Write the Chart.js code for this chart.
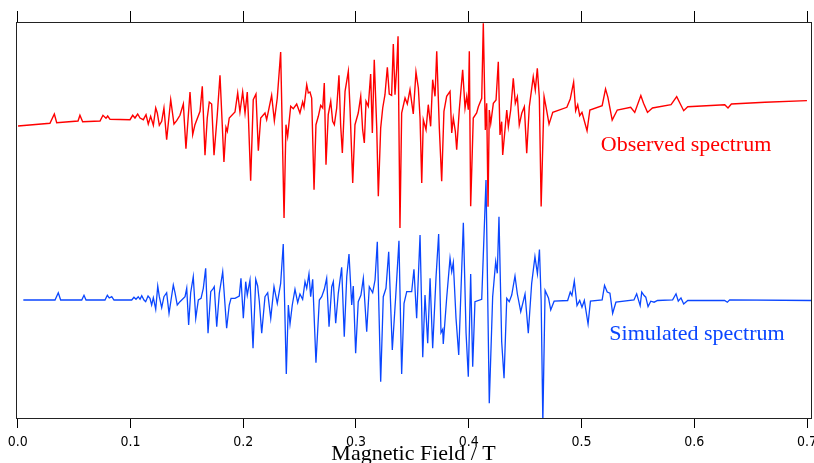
<!DOCTYPE html>
<html>
<head>
<meta charset="utf-8">
<script src="https://cdn.jsdelivr.net/npm/chart.js@4.4.1/dist/chart.umd.min.js"></script>
<style>
  html, body { margin: 0; padding: 0; background: #fff; }
  canvas { display: block; }
</style>
</head>
<body>
<canvas id="spectrumChart" width="814" height="463"></canvas>
<script>
// Observed spectrum: magnetic field (T) and signal (arb. units)
const obsField = [0.0003, 0.0286, 0.0325, 0.0346, 0.0535, 0.0552, 0.0576, 0.0730, 0.0756, 0.0783, 0.0798, 0.0819, 0.0996,
  0.1020, 0.1040, 0.1064, 0.1085, 0.1114, 0.1138, 0.1158, 0.1179, 0.1203, 0.1224, 0.1238, 0.1256, 0.1277, 0.1297, 0.1321,
  0.1357, 0.1386, 0.1410, 0.1439, 0.1469, 0.1492, 0.1528, 0.1552, 0.1572, 0.1617, 0.1637, 0.1661, 0.1681, 0.1699, 0.1720,
  0.1741, 0.1770, 0.1794, 0.1829, 0.1847, 0.1859, 0.1876, 0.1927, 0.1951, 0.1971, 0.1995, 0.2016, 0.2036, 0.2045, 0.2066,
  0.2089, 0.2113, 0.2134, 0.2155, 0.2193, 0.2208, 0.2252, 0.2276, 0.2302, 0.2332, 0.2362, 0.2379, 0.2394, 0.2421, 0.2444,
  0.2474, 0.2503, 0.2527, 0.2539, 0.2563, 0.2577, 0.2592, 0.2607, 0.2628, 0.2645, 0.2666, 0.2687, 0.2705, 0.2719, 0.2734,
  0.2754, 0.2776, 0.2793, 0.2808, 0.2829, 0.2849, 0.2864, 0.2879, 0.2903, 0.2932, 0.2947, 0.2971, 0.2991, 0.3020, 0.3042,
  0.3059, 0.3074, 0.3089, 0.3109, 0.3130, 0.3145, 0.3162, 0.3184, 0.3198, 0.3219, 0.3237, 0.3257, 0.3278, 0.3295, 0.3316,
  0.3331, 0.3346, 0.3361, 0.3373, 0.3390, 0.3405, 0.3435, 0.3455, 0.3479, 0.3508, 0.3532, 0.3553, 0.3568, 0.3583, 0.3597,
  0.3621, 0.3641, 0.3662, 0.3680, 0.3701, 0.3716, 0.3739, 0.3760, 0.3780, 0.3804, 0.3834, 0.3849, 0.3863, 0.3881, 0.3893,
  0.3916, 0.3946, 0.3967, 0.3982, 0.3996, 0.4005, 0.4017, 0.4040, 0.4070, 0.4085, 0.4115, 0.4129, 0.4147, 0.4159, 0.4171,
  0.4182, 0.4195, 0.4218, 0.4242, 0.4262, 0.4277, 0.4292, 0.4301, 0.4337, 0.4351, 0.4372, 0.4395, 0.4413, 0.4431, 0.4448,
  0.4470, 0.4493, 0.4514, 0.4537, 0.4572, 0.4590, 0.4608, 0.4626, 0.4642, 0.4668, 0.4686, 0.4712, 0.4745, 0.4870, 0.4900,
  0.4930, 0.4948, 0.4966, 0.4984, 0.5004, 0.5049, 0.5074, 0.5183, 0.5213, 0.5234, 0.5272, 0.5317, 0.5436, 0.5472, 0.5526,
  0.5550, 0.5585, 0.5629, 0.5794, 0.5844, 0.5873, 0.5906, 0.5942, 0.6270, 0.6299, 0.6329, 0.6627, 0.6999];
const obsSignal = [-0.010, 0.017, 0.110, 0.023, 0.040, 0.097, 0.033, 0.040, 0.097, 0.067, 0.090, 0.057, 0.053,
  0.097, 0.070, 0.110, 0.070, 0.053, 0.103, 0.010, 0.087, -0.003, 0.170, 0.120, -0.003, 0.037, 0.170, -0.147,
  0.253, 0.010, 0.043, 0.097, 0.210, -0.237, 0.330, -0.097, 0.003, 0.137, 0.387, -0.303, 0.070, 0.230, 0.210,
  -0.303, 0.103, 0.497, -0.370, -0.023, -0.063, 0.070, 0.130, 0.320, 0.130, 0.330, 0.120, 0.330, 0.110, -0.557,
  0.253, 0.310, -0.257, 0.070, 0.120, 0.053, 0.297, 0.043, 0.270, 0.730, -0.930, 0.003, -0.113, 0.187, 0.163,
  0.210, 0.120, 0.230, 0.177, 0.403, 0.320, 0.330, 0.270, -0.647, 0.003, 0.087, 0.197, 0.170, 0.420, -0.397,
  0.103, 0.237, 0.037, 0.003, 0.170, 0.497, -0.003, -0.280, 0.337, 0.537, 0.170, -0.580, 0.003, 0.120, 0.287,
  -0.047, -0.180, 0.237, 0.187, 0.510, -0.080, 0.653, -0.030, -0.713, -0.030, 0.170, 0.303, 0.577, 0.310, 0.297,
  0.810, 0.303, 0.570, 0.887, -1.030, 0.120, 0.270, 0.210, 0.353, 0.110, 0.530, 0.370, 0.070, -0.580, 0.053,
  -0.047, 0.203, -0.013, 0.453, 0.287, 0.737, -0.030, -0.563, 0.137, 0.287, 0.337, -0.080, 0.070, -0.063, -0.247,
  0.153, 0.553, 0.170, 0.287, 0.153, 0.737, -0.813, 0.070, 0.120, 0.183, 0.267, 1.017, -0.050, 0.217, -0.817,
  0.150, 0.017, 0.217, 0.250, 0.633, -0.100, 0.033, -0.300, 0.150, -0.017, 0.150, 0.467, 0.217, 0.283, 0.000,
  0.117, 0.183, -0.283, 0.183, 0.483, 0.350, 0.567, 0.270, -0.814, 0.284, 0.177, 0.009, 0.126, 0.177, 0.260,
  0.428, 0.143, 0.203, 0.093, 0.126, -0.058, 0.150, 0.193, 0.361, 0.277, 0.049, 0.150, 0.177, 0.126, 0.294,
  0.217, 0.126, 0.170, 0.203, 0.284, 0.217, 0.143, 0.183, 0.203, 0.170, 0.210, 0.227, 0.244];

// Simulated spectrum: magnetic field (T) and signal (arb. units)
const simField = [0.0050, 0.0331, 0.0360, 0.0381, 0.0568, 0.0588, 0.0606, 0.0774, 0.0795, 0.0812, 0.0834, 0.0854, 0.1011,
  0.1031, 0.1049, 0.1069, 0.1085, 0.1100, 0.1120, 0.1135, 0.1156, 0.1173, 0.1188, 0.1203, 0.1224, 0.1242, 0.1256, 0.1277,
  0.1297, 0.1321, 0.1342, 0.1380, 0.1395, 0.1415, 0.1439, 0.1484, 0.1499, 0.1516, 0.1534, 0.1557, 0.1579, 0.1602, 0.1626,
  0.1646, 0.1667, 0.1688, 0.1712, 0.1735, 0.1743, 0.1765, 0.1788, 0.1818, 0.1853, 0.1876, 0.1892, 0.1927, 0.1965, 0.1980,
  0.2001, 0.2022, 0.2036, 0.2060, 0.2087, 0.2111, 0.2128, 0.2143, 0.2164, 0.2193, 0.2217, 0.2244, 0.2273, 0.2302, 0.2332,
  0.2355, 0.2382, 0.2400, 0.2415, 0.2435, 0.2459, 0.2483, 0.2503, 0.2527, 0.2548, 0.2563, 0.2583, 0.2598, 0.2616, 0.2645,
  0.2675, 0.2696, 0.2719, 0.2740, 0.2761, 0.2785, 0.2799, 0.2820, 0.2843, 0.2873, 0.2896, 0.2918, 0.2938, 0.2962, 0.2976,
  0.2997, 0.3020, 0.3044, 0.3065, 0.3095, 0.3118, 0.3148, 0.3169, 0.3189, 0.3219, 0.3242, 0.3266, 0.3290, 0.3322, 0.3352,
  0.3381, 0.3405, 0.3426, 0.3450, 0.3494, 0.3514, 0.3538, 0.3568, 0.3592, 0.3612, 0.3636, 0.3657, 0.3680, 0.3710, 0.3733,
  0.3754, 0.3769, 0.3774, 0.3804, 0.3834, 0.3849, 0.3863, 0.3887, 0.3911, 0.3952, 0.3976, 0.3996, 0.4017, 0.4035, 0.4055,
  0.4115, 0.4153, 0.4182, 0.4212, 0.4239, 0.4253, 0.4268, 0.4292, 0.4313, 0.4337, 0.4359, 0.4381, 0.4410, 0.4431, 0.4461,
  0.4499, 0.4528, 0.4558, 0.4587, 0.4609, 0.4627, 0.4642, 0.4657, 0.4677, 0.4707, 0.4727, 0.4757, 0.4877, 0.4900, 0.4915,
  0.4936, 0.4960, 0.4984, 0.5004, 0.5025, 0.5058, 0.5079, 0.5183, 0.5204, 0.5228, 0.5252, 0.5276, 0.5305, 0.5465, 0.5489,
  0.5520, 0.5534, 0.5555, 0.5570, 0.5590, 0.5614, 0.5644, 0.5674, 0.5808, 0.5838, 0.5858, 0.5882, 0.5906, 0.5942, 0.6269,
  0.6293, 0.6314, 0.7043];
const simSignal = [0.000, 0.000, 0.073, 0.000, 0.000, 0.047, 0.000, 0.000, 0.047, 0.020, 0.033, 0.000, 0.000,
  0.027, 0.007, 0.033, 0.007, 0.043, 0.000, -0.017, 0.040, 0.017, -0.050, 0.023, -0.093, 0.140, 0.033, -0.077,
  0.033, 0.073, -0.133, 0.150, 0.073, -0.050, -0.017, 0.033, 0.117, -0.250, 0.073, 0.233, -0.183, 0.000, 0.017,
  0.117, 0.317, -0.333, 0.083, 0.117, 0.133, -0.267, 0.067, 0.283, -0.283, -0.050, 0.017, 0.017, 0.040, 0.217,
  -0.183, 0.183, 0.050, 0.200, -0.483, 0.207, 0.140, -0.017, -0.333, 0.033, 0.073, -0.183, 0.133, -0.033, 0.167,
  0.560, -0.740, -0.050, -0.240, -0.050, 0.107, -0.027, 0.060, 0.007, 0.183, 0.117, 0.260, 0.033, 0.207, -0.627,
  0.000, 0.033, 0.107, 0.217, -0.267, 0.133, 0.183, -0.233, 0.067, 0.327, -0.367, 0.233, 0.460, -0.050, 0.140,
  -0.533, -0.017, 0.050, 0.217, -0.317, 0.133, 0.073, 0.200, 0.583, -0.817, 0.033, 0.117, 0.483, -0.500, 0.033,
  0.593, -0.740, -0.033, 0.083, 0.083, 0.307, -0.183, 0.650, -0.573, 0.050, -0.433, 0.217, -0.483, 0.233, 0.660,
  -0.327, -0.293, -0.440, 0.017, 0.417, 0.283, 0.373, -0.183, -0.550, 0.773, -0.327, -0.767, 0.260, -0.667, -0.017,
  0.007, 1.200, -1.033, 0.033, 0.383, 0.267, 0.833, -0.417, -0.783, 0.017, -0.017, 0.050, 0.240, 0.060, -0.117,
  0.060, -0.333, 0.167, 0.433, 0.263, 0.505, -0.005, -1.220, 0.095, 0.021, -0.099, -0.012, -0.005, 0.079, 0.045,
  0.189, -0.056, -0.005, -0.072, -0.005, -0.240, -0.012, 0.001, 0.146, 0.079, 0.068, -0.133, -0.022, 0.001, 0.062,
  -0.056, 0.079, 0.045, 0.028, -0.066, -0.012, -0.022, -0.005, 0.001, 0.062, -0.012, 0.021, -0.039, -0.005, -0.005,
  -0.022, 0.001, -0.005];

// Vertical offsets of the two traces
const obsOffset = 1.75;
const simOffset = 0;

// Field axis tick values
const fieldTicks = [0.0, 0.1, 0.2, 0.3, 0.4, 0.5, 0.6, 0.7];

// Trace labels
const traceLabels = ['Observed spectrum', 'Simulated spectrum'];

let
  toPoints = (xs, ys, off) => xs.map((x, i) => ({ x: x, y: ys[i] + off })),
  setTicks = scale => { scale.ticks = fieldTicks.map(v => ({ value: v })); },
  // Frame round the plot and the trace labels
  framePlugin = {
    id: 'frame',
    afterDatasetsDraw(chart) {
      const { ctx, chartArea: a, scales } = chart;
      ctx.save();
      ctx.strokeStyle = '#222';
      ctx.lineWidth = 1;
      ctx.strokeRect(a.left + 0.5, a.top + 0.5, a.right - a.left, a.bottom - a.top);
      ctx.font = '22px "Liberation Serif", "Times New Roman", serif';
      ctx.textAlign = 'center';
      ctx.textBaseline = 'middle';
      ctx.fillStyle = '#ff0000';
      ctx.fillText(traceLabels[0], scales.x.getPixelForValue(0.5927), scales.y.getPixelForValue(1.55));
      ctx.fillStyle = '#0a46ff';
      ctx.fillText(traceLabels[1], scales.x.getPixelForValue(0.6024), scales.y.getPixelForValue(-0.345));
      ctx.restore();
    }
  },
  spectrumChart = new Chart(document.getElementById('spectrumChart').getContext('2d'), {
    type: 'scatter',
    data: {
      datasets: [
        {
          data: toPoints(obsField, obsSignal, obsOffset),
          showLine: true,
          borderColor: '#ff0000',
          borderWidth: 1.4,
          pointRadius: 0,
          tension: 0,
          clip: 0
        },
        {
          data: toPoints(simField, simSignal, simOffset),
          showLine: true,
          borderColor: '#0a46ff',
          borderWidth: 1.3,
          pointRadius: 0,
          tension: 0,
          clip: 0
        }
      ]
    },
    options: {
      responsive: false,
      animation: false,
      devicePixelRatio: 1,
      layout: { padding: { left: 16, right: 3, top: 10, bottom: 0 } },
      plugins: { legend: { display: false }, tooltip: { enabled: false } },
      scales: {
        x: {
          type: 'linear',
          position: 'bottom',
          min: -0.0015,
          max: 0.7035,
          afterBuildTicks: setTicks,
          afterFit: s => { s.height = 45; s.paddingLeft = 0; s.paddingRight = 0; },
          border: { display: false },
          grid: { drawOnChartArea: false, drawTicks: true, tickLength: 10, color: '#000', lineWidth: 1 },
          ticks: {
            autoSkip: false,
            maxRotation: 0,
            padding: 6,
            color: '#000',
            font: { family: '"Liberation Sans Narrow", "DejaVu Sans Condensed", Arial, sans-serif', size: 14 },
            callback: v => v.toFixed(1)
          },
          title: {
            display: true,
            text: 'Magnetic Field / T',
            color: '#000',
            font: { family: '"Liberation Serif", "Times New Roman", serif', size: 22 },
            padding: { top: 0, bottom: -4 }
          }
        },
        x2: {
          type: 'linear',
          position: 'top',
          min: -0.0015,
          max: 0.7035,
          afterBuildTicks: setTicks,
          afterFit: s => { s.height = 12; s.paddingLeft = 0; s.paddingRight = 0; },
          border: { display: false },
          grid: { drawOnChartArea: false, drawTicks: true, tickLength: 11, color: '#000', lineWidth: 1 },
          ticks: { display: false }
        },
        y: {
          display: false,
          min: -1.18,
          max: 2.78
        }
      }
    },
    plugins: [framePlugin]
  });
</script>
</body>
</html>
